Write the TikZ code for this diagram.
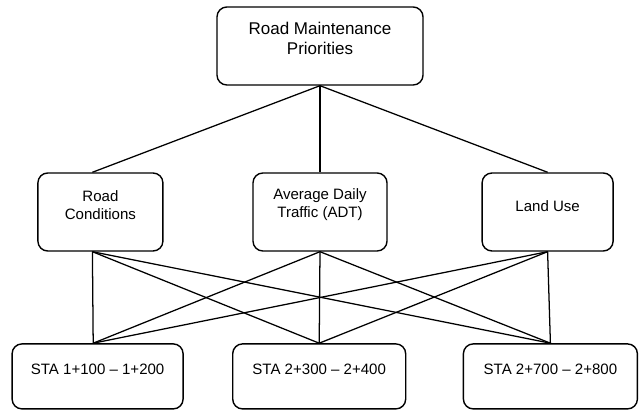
\documentclass[tikz,border=0pt]{standalone}
\usepackage{fontspec}
\setmainfont{Liberation Sans}

\begin{document}
\begin{tikzpicture}[
    box/.style={draw, line width=1pt, rounded corners=7pt},
    txt/.style={align=center, yshift=0.18cm, font=\fontsize{10.7}{12.8}\selectfont},
    link/.style={line width=0.9pt}
  ]
        \useasboundingbox (0,0) rectangle (16,10.25);

        \node[box, minimum width=5.15cm, minimum height=1.95cm,
              label={[txt, font=\fontsize{12.1}{14.2}\selectfont]center:Road Maintenance\\Priorities}] (prio) at (8,9.1) {};

        \node[box, minimum width=3.125cm, minimum height=1.95cm,
              label={[txt]center:Road\\Conditions}] (cond) at (2.51,4.95) {};
        \node[box, minimum width=3.35cm, minimum height=1.95cm,
              label={[txt]center:Average Daily\\Traffic (ADT)}] (adt) at (8,4.95) {};
        \node[box, minimum width=3.275cm, minimum height=1.95cm,
              label={[txt, yshift=-0.04cm]center:Land Use}] (land) at (13.69,4.95) {};

        \node[box, minimum width=4.275cm, minimum height=1.625cm,
              label={[txt]center:STA 1+100 \textendash{} 1+200}] (sta1) at (2.44,0.84) {};
        \node[box, minimum width=4.325cm, minimum height=1.625cm,
              label={[txt]center:STA 2+300 \textendash{} 2+400}] (sta2) at (7.98,0.84) {};
        \node[box, minimum width=4.35cm, minimum height=1.625cm,
              label={[txt]center:STA 2+700 \textendash{} 2+800}] (sta3) at (13.76,0.84) {};

        \draw[link] (prio.south) -- ([xshift=-0.2cm]cond.north);
        \draw[link] (prio.south) -- (adt.north);
        \draw[link] (prio.south) -- (land.north);

        \draw[link] ([xshift=-0.2cm]cond.south) -- ([xshift=-0.11cm]sta1.north);
        \draw[link] ([xshift=-0.2cm]cond.south) -- (sta2.north);
        \draw[link] ([xshift=-0.2cm]cond.south) -- (sta3.north);

        \draw[link] (adt.south) -- ([xshift=-0.11cm]sta1.north);
        \draw[link] (adt.south) -- (sta2.north);
        \draw[link] (adt.south) -- (sta3.north);

        \draw[link] (land.south) -- ([xshift=-0.11cm]sta1.north);
        \draw[link] (land.south) -- (sta2.north);
        \draw[link] (land.south) -- (sta3.north);
\end{tikzpicture}
\end{document}
